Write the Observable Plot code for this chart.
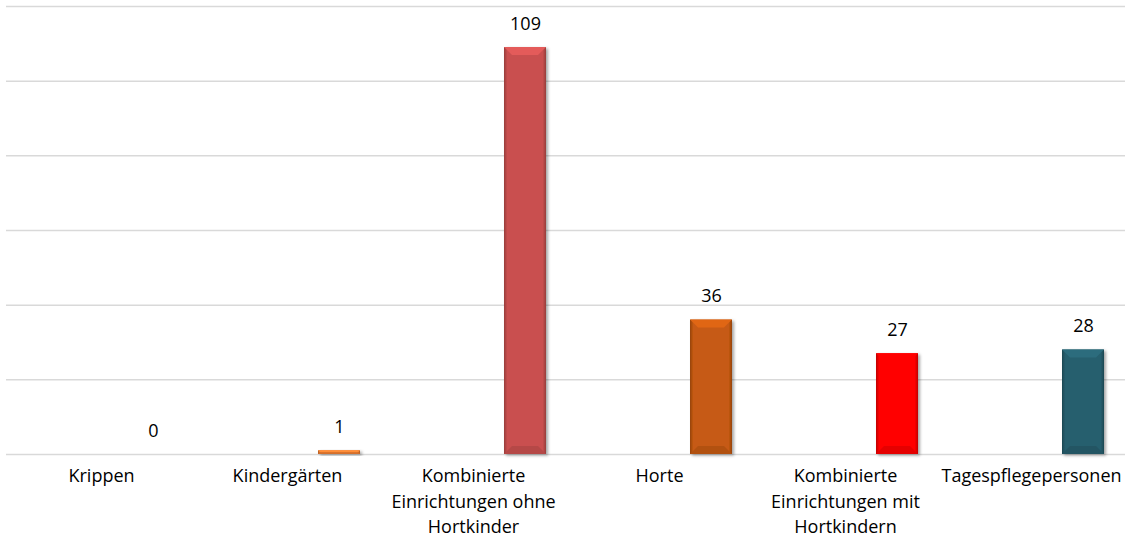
<!DOCTYPE html>
<html>
<head>
<meta charset="utf-8">
<script src="https://cdn.jsdelivr.net/npm/d3@7"></script>
<script src="https://cdn.jsdelivr.net/npm/@observablehq/plot@0.6"></script>
<style>
  html, body { margin: 0; padding: 0; background: #fff; }
  #chart svg { display: block; }
</style>
</head>
<body>
<div id="chart"></div>
<script>
const categories = [
  "Krippen",
  "Kindergärten",
  "Kombinierte\nEinrichtungen ohne\nHortkinder",
  "Horte",
  "Kombinierte\nEinrichtungen mit\nHortkindern",
  "Tagespflegepersonen"
];
const values = [0, 1, 109, 36, 27, 28];
const colors = ["#4472c4", "#ed7d31", "#c9504f", "#c65a12", "#ff0000", "#275f6e"];
const gridTicks = [0, 20, 40, 60, 80, 100, 120];

const data = categories.map((c, i) => ({cat: c, value: values[i], color: colors[i], idx: i}));

const FONT = "'Open Sans', Lato, sans-serif";

const chart = Plot.plot({
  width: 1128,
  height: 538,
  marginLeft: 6,
  marginRight: 3,
  marginTop: 6,
  marginBottom: 84,
  style: {fontFamily: FONT, fontSize: "18px", color: "#000", background: "#fff"},
  x: {domain: categories, padding: 0, label: null},
  y: {domain: [0, 120], axis: null},
  color: {type: "identity"},
  marks: [
    Plot.ruleY(gridTicks, {stroke: "#d9d9d9", strokeWidth: 1.5}),
    Plot.barY(data, {
      x: "cat", y: "value", fill: "color",
      insetLeft: 124, insetRight: 20,
      className: "bars"
    }),
    Plot.text(data, {
      x: "cat", y: "value", text: d => String(d.value),
      dx: 52, dy: -18, lineAnchor: "bottom", fill: "#000",
      fontSize: 18
    }),
    Plot.axisX({
      tickSize: 0, tickPadding: 10, lineHeight: 1.4, fontSize: 18,
      textOverflow: null, lineWidth: 100, fill: "#000"
    })
  ]
});

document.getElementById("chart").appendChild(chart);

// Excel-like bevel styling applied to the rendered bars
const svg = d3.select(chart);
const defs = svg.insert("defs", ":first-child");
const filt = defs.append("filter").attr("id", "shadow").attr("x", "-20%").attr("y", "-20%").attr("width", "150%").attr("height", "150%");
filt.append("feDropShadow").attr("dx", 2).attr("dy", 1.5).attr("stdDeviation", 1.5).attr("flood-color", "#000").attr("flood-opacity", 0.35);

colors.forEach((c, i) => {
  const base = d3.rgb(c);
  const dark = base.darker(0.8);
  const g = defs.append("linearGradient").attr("id", "hg" + i).attr("x1", 0).attr("x2", 1).attr("y1", 0).attr("y2", 0);
  g.append("stop").attr("offset", "0%").attr("stop-color", dark);
  g.append("stop").attr("offset", "8%").attr("stop-color", base);
  g.append("stop").attr("offset", "92%").attr("stop-color", base);
  g.append("stop").attr("offset", "100%").attr("stop-color", dark);
});

svg.selectAll("g.bars rect").each(function() {
  const r = d3.select(this);
  const i = data.findIndex(e => d3.color(e.color).formatHex() === d3.color(r.attr("fill")).formatHex());
  const x = +r.attr("x"), y = +r.attr("y"), w = +r.attr("width"), h = +r.attr("height");
  if (!(h > 0)) return;
  r.attr("fill", `url(#hg${i})`).attr("filter", "url(#shadow)");
  const b = Math.min(8, h / 2, w / 4);
  const parent = d3.select(this.parentNode);
  const base = d3.rgb(colors[i]);
  parent.append("path")
    .attr("d", `M${x},${y}L${x + w},${y}L${x + w - b},${y + b}L${x + b},${y + b}Z`)
    .attr("fill", base.brighter(0.35));
  parent.append("path")
    .attr("d", `M${x},${y + h}L${x + w},${y + h}L${x + w - b},${y + h - b}L${x + b},${y + h - b}Z`)
    .attr("fill", base.darker(0.3));
});
</script>
</body>
</html>
